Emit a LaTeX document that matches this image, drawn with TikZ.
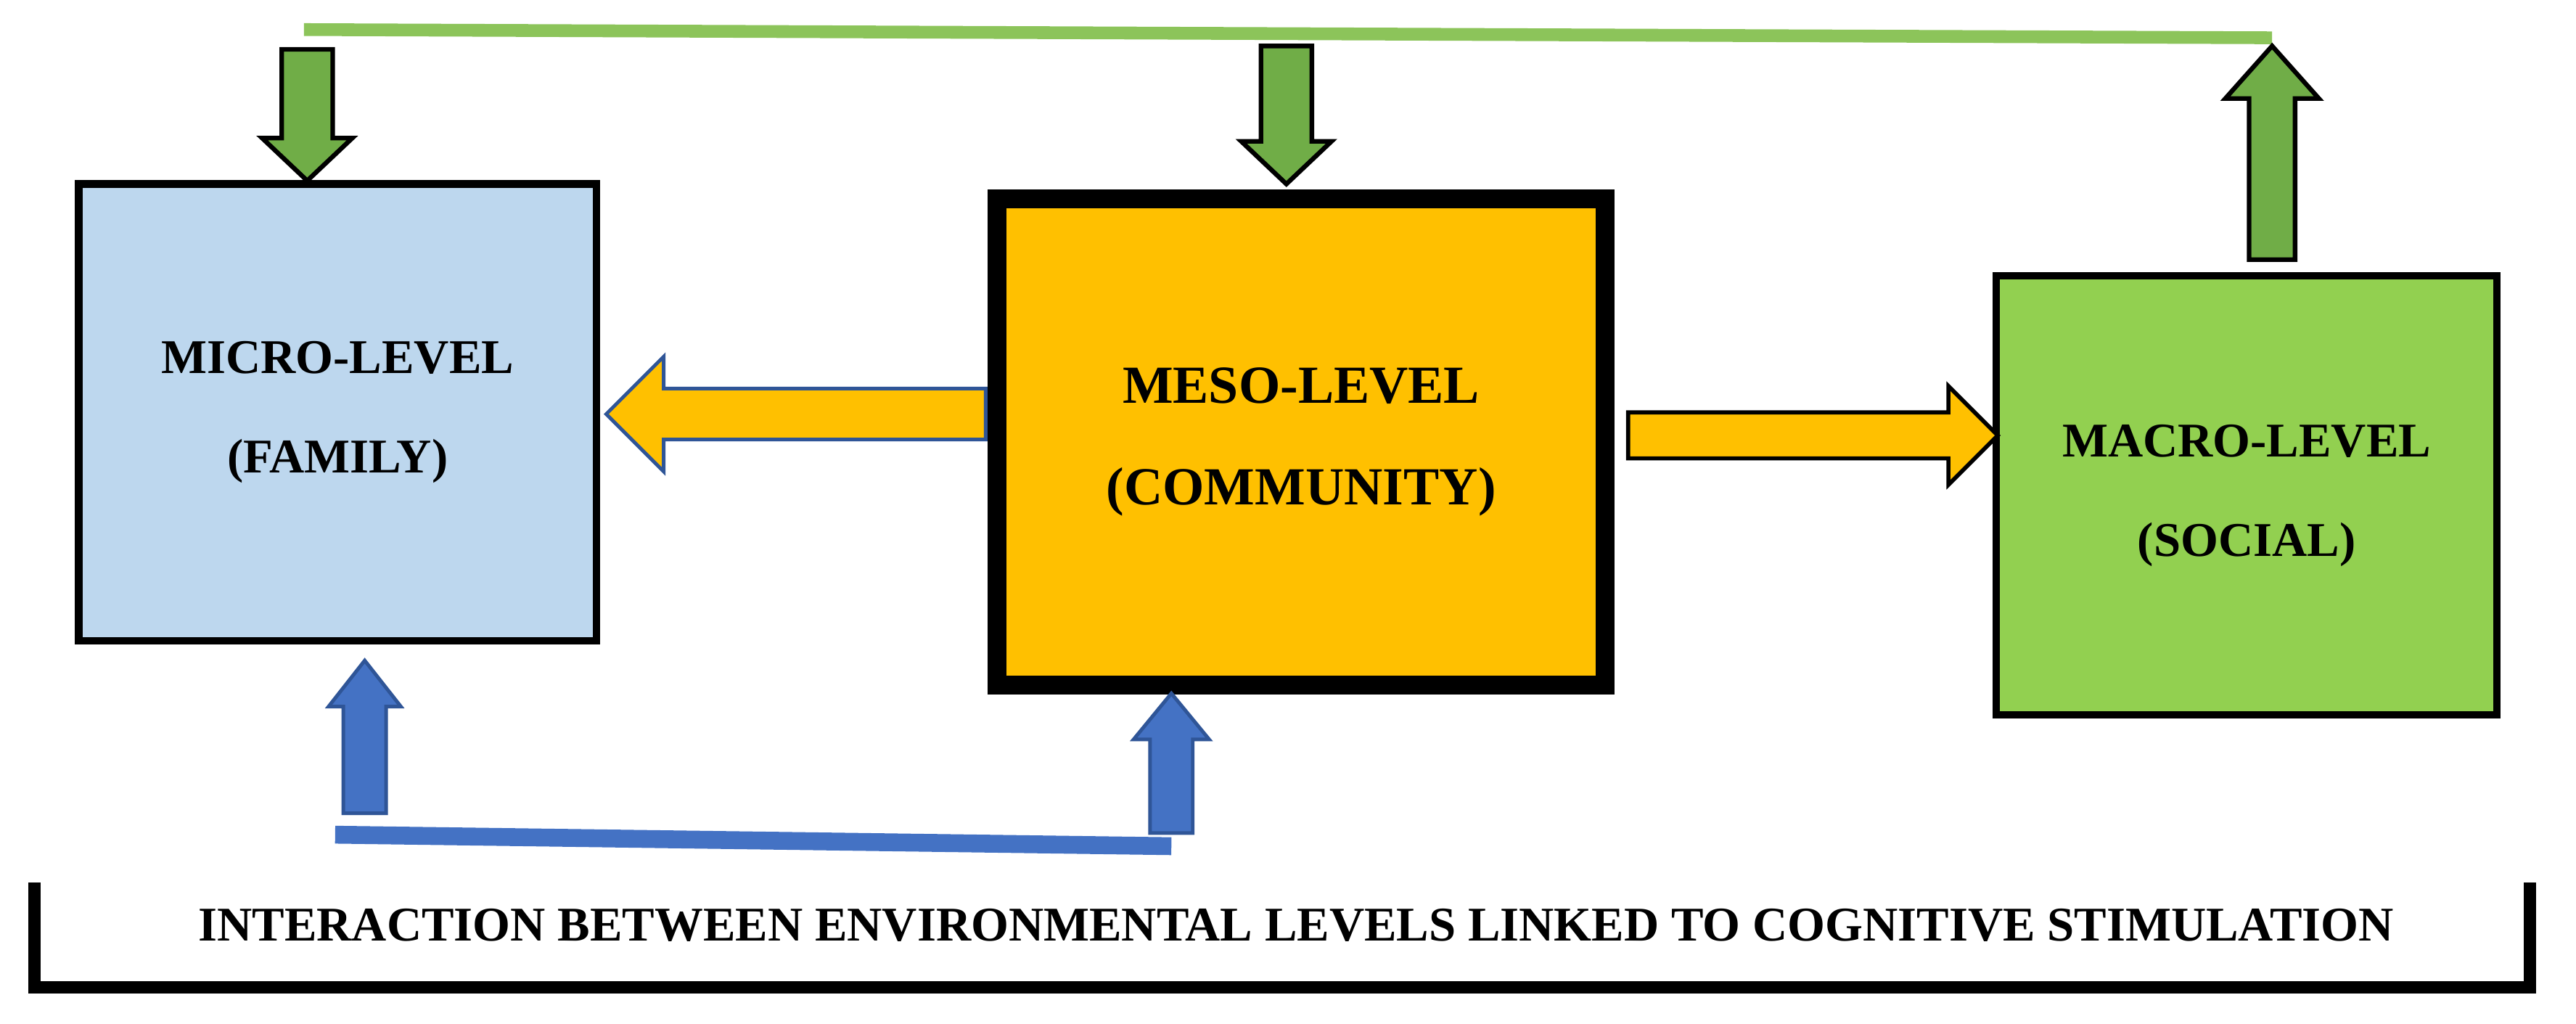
\documentclass[tikz,border=0pt]{standalone}
\usepackage{fontspec}
\setmainfont{Liberation Serif}
\definecolor{microc}{HTML}{BDD7EE}
\definecolor{mesoc}{HTML}{FFC000}
\definecolor{macroc}{HTML}{92D050}
\definecolor{greenar}{HTML}{70AD47}
\definecolor{greenln}{HTML}{8CC45A}
\definecolor{bluear}{HTML}{4472C4}
\definecolor{blueol}{HTML}{2F5597}
% vertical block arrow: x, y tail, y tip, shaft width, head width, head length
\newcommand\myvarrow[7]{%
  \pgfmathsetmacro\dir{(#3>#2)?1:-1}%
  \filldraw[#7] ({#1-#4/2},#2) -- ({#1-#4/2},{#3-\dir*#6}) -- ({#1-#5/2},{#3-\dir*#6}) -- (#1,#3) -- ({#1+#5/2},{#3-\dir*#6}) -- ({#1+#4/2},{#3-\dir*#6}) -- ({#1+#4/2},#2) -- cycle;}
\newcommand\myharrow[7]{%
  \pgfmathsetmacro\dir{(#3>#2)?1:-1}%
  \filldraw[#7] (#2,{#1-#4/2}) -- ({#3-\dir*#6},{#1-#4/2}) -- ({#3-\dir*#6},{#1-#5/2}) -- (#3,#1) -- ({#3-\dir*#6},{#1+#5/2}) -- ({#3-\dir*#6},{#1+#4/2}) -- (#2,{#1+#4/2}) -- cycle;}
\begin{document}
\begin{tikzpicture}[x=0.02264cm,y=-0.02264cm,
  lbl/.style={font=\bfseries\fontsize{19}{39}\selectfont,align=center}]
\useasboundingbox (0,0) rectangle (1568,623);
% boxes
\node[draw,line width=3pt,fill=microc,minimum width=315*0.02264cm,minimum height=278*0.02264cm,lbl] (micro) at (205.5,251) {MICRO-LEVEL\\(FAMILY)};
\node[draw,line width=7.5pt,fill=mesoc,minimum width=370*0.02264cm,minimum height=296*0.02264cm,lbl,font=\bfseries\fontsize{21}{40}\selectfont] (meso) at (792,269) {MESO-LEVEL\\(COMMUNITY)};
\node[draw,line width=2.8pt,fill=macroc,minimum width=305*0.02264cm,minimum height=267*0.02264cm,lbl] (macro) at (1367.5,301.5) {MACRO-LEVEL\\(SOCIAL)};
% green top line
\draw[greenln,line width=5pt] (185,18) -- (1383,23);
\myvarrow{187}{30}{110}{31}{55}{26}{fill=greenar,draw=black,line width=1.8pt}
\myvarrow{783}{28}{112}{31}{55}{26}{fill=greenar,draw=black,line width=1.8pt}
\myvarrow{1383}{158}{28}{28}{57}{32}{fill=greenar,draw=black,line width=1.8pt}
% orange arrows
\myharrow{252}{600}{369}{31}{70}{35}{fill=mesoc,draw=blueol,line width=1.4pt}
\myharrow{265}{991}{1216}{28}{60}{30}{fill=mesoc,draw=black,line width=1.6pt}
% blue
\draw[bluear,line width=7pt] (204,508) -- (713,515);
\myvarrow{222}{495}{402}{26}{44}{28}{fill=bluear,draw=blueol,line width=1.4pt}
\myvarrow{713}{507}{422}{26}{46}{28}{fill=bluear,draw=blueol,line width=1.4pt}
% bracket
\draw[line width=5pt] (21,537) -- (21,601) -- (1540,601) -- (1540,537);
\node[lbl] (cap) at (789,563) {INTERACTION BETWEEN ENVIRONMENTAL LEVELS LINKED TO COGNITIVE STIMULATION};
\end{tikzpicture}
\end{document}
